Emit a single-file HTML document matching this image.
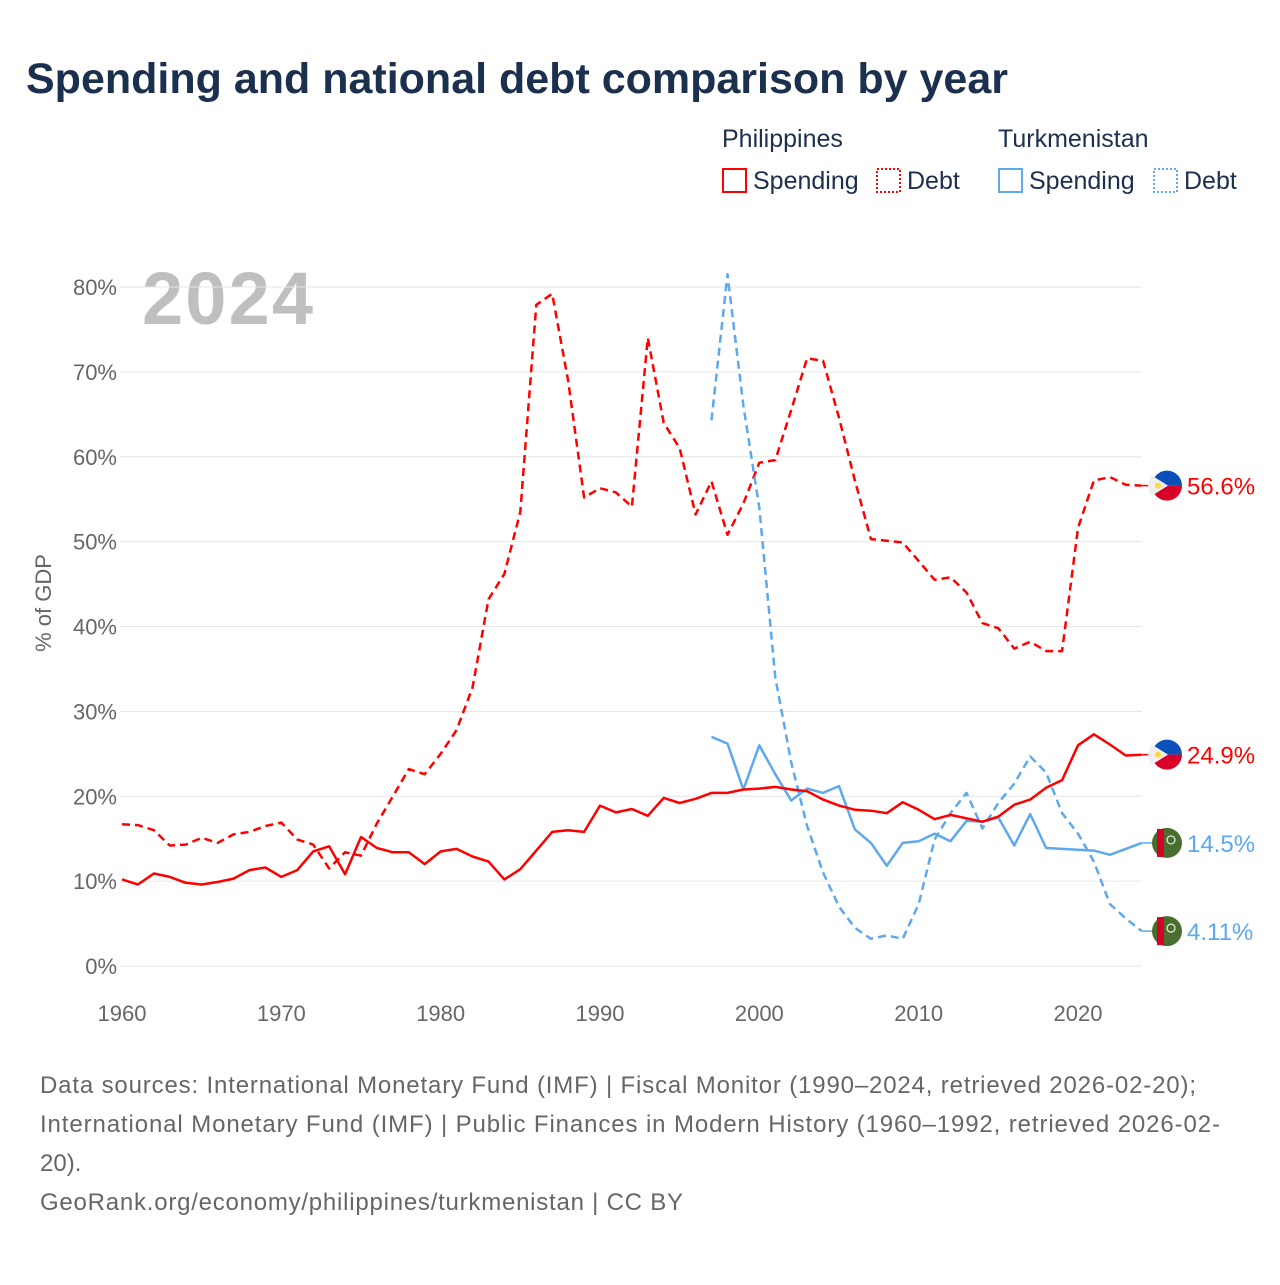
<!DOCTYPE html>
<html><head><meta charset="utf-8"><style>
body{margin:0;background:#fff;font-family:"Liberation Sans",sans-serif}
svg text{font-family:"Liberation Sans",sans-serif}
</style></head><body>
<svg id="chart" width="1280" height="1280" viewBox="0 0 1280 1280">
<text x="26" y="93" font-size="43" font-weight="bold" fill="#1b2f4e">Spending and national debt comparison by year</text>
<g font-size="25" fill="#1b2f4e">
<text x="722" y="147">Philippines</text>
<text x="998" y="147">Turkmenistan</text>
<g><rect x="723" y="169" width="23" height="23" fill="none" stroke="#f00" stroke-width="2"/><text x="753" y="189">Spending</text></g>
<g><rect x="877" y="169" width="23" height="23" fill="none" stroke="#f00" stroke-width="2" stroke-dasharray="2,2"/><text x="907" y="189">Debt</text></g>
<g><rect x="999" y="169" width="23" height="23" fill="none" stroke="#5ea8ec" stroke-width="2"/><text x="1029" y="189">Spending</text></g>
<g><rect x="1154" y="169" width="23" height="23" fill="none" stroke="#5ea8ec" stroke-width="2" stroke-dasharray="2,2"/><text x="1184" y="189">Debt</text></g>
</g>
<text x="142" y="324" font-size="74" font-weight="bold" fill="#bfbfbf" textLength="171">2024</text>
<g id="grid"></g>
<g id="yticks" font-size="22" fill="#666"></g>
<g id="xticks" font-size="22" fill="#666"></g>
<text transform="translate(51,603) rotate(-90)" text-anchor="middle" font-size="22" fill="#666">% of GDP</text>
<g id="series"></g>
<g id="endlabels"></g>
<g font-size="24" fill="#666">
<text x="40" y="1093" textLength="1156">Data sources: International Monetary Fund (IMF) | Fiscal Monitor (1990–2024, retrieved 2026-02-20);</text>
<text x="40" y="1132" textLength="1180">International Monetary Fund (IMF) | Public Finances in Modern History (1960–1992, retrieved 2026-02-</text>
<text x="40" y="1171">20).</text>
<text x="40" y="1210" textLength="643">GeoRank.org/economy/philippines/turkmenistan | CC BY</text>
</g>
</svg>
<script>
const yTicks=[0,10,20,30,40,50,60,70,80];
const xTicks=[1960,1970,1980,1990,2000,2010,2020];
const phStart=1960;
const phSpending=[10.2,9.6,10.9,10.5,9.8,9.6,9.9,10.3,11.3,11.6,10.5,11.3,13.5,14.1,10.8,15.2,13.9,13.4,13.4,12.0,13.5,13.8,12.9,12.3,10.2,11.4,13.6,15.8,16.0,15.8,18.9,18.1,18.5,17.7,19.8,19.2,19.7,20.4,20.4,20.8,20.9,21.1,20.8,20.6,19.6,18.9,18.4,18.3,18.0,19.3,18.4,17.3,17.8,17.4,17.0,17.6,19.0,19.6,21.0,21.9,26.0,27.3,26.1,24.8,24.9];
const phDebt=[16.7,16.6,16.0,14.2,14.3,15.1,14.5,15.5,15.8,16.5,16.9,14.9,14.3,11.5,13.4,13.0,16.8,20.0,23.2,22.6,25.0,27.8,32.8,43.2,46.2,53.5,77.9,79.2,69.0,55.2,56.3,55.8,54.1,74.0,64.0,61.0,53.2,57.1,50.8,54.5,59.3,59.6,65.5,71.6,71.3,64.6,57.2,50.3,50.1,49.9,47.7,45.5,45.8,44.0,40.4,39.8,37.4,38.2,37.1,37.1,51.6,57.2,57.6,56.7,56.6];
const tmStart=1997;
const tmSpending=[27.0,26.2,20.8,26.0,22.6,19.5,20.9,20.4,21.2,16.1,14.5,11.8,14.5,14.7,15.6,14.7,17.1,17.0,17.5,14.2,17.9,13.9,13.8,13.7,13.6,13.1,13.8,14.5];
const tmDebt=[64.3,81.5,66.0,54.0,34.0,24.0,16.5,11.0,7.0,4.5,3.2,3.6,3.2,7.3,14.9,18.0,20.4,16.2,19.2,21.5,24.7,22.8,18.0,15.6,12.3,7.3,5.6,4.11];
const endLabels=["56.6%","24.9%","14.5%","4.11%"];

const NS="http://www.w3.org/2000/svg";
const x=y=>122+(y-1960)*(956/60);
const yv=v=>966-v*8.4875;
function mk(t,a,p){const e=document.createElementNS(NS,t);for(const k in a)e.setAttribute(k,a[k]);p.appendChild(e);return e;}
const grid=document.getElementById('grid'),yt=document.getElementById('yticks'),xt=document.getElementById('xticks');
yTicks.forEach(v=>{
 const l=mk('line',{x1:120,x2:1142,y1:yv(v),y2:yv(v),stroke:'#e6e6e6','stroke-width':1},grid);
 
 
 const t=mk('text',{x:117,y:yv(v)+8,'text-anchor':'end'},yt);t.textContent=v+'%';
 
 
});
xTicks.forEach(v=>{
 const t=mk('text',{x:x(v),y:1021,'text-anchor':'middle'},xt);t.textContent=v;
 
 
});
const ser=document.getElementById('series');
function line(arr,start,color,dash,name){
 const d=arr.map((v,i)=>(i?'L':'M')+x(start+i).toFixed(1)+','+yv(v).toFixed(1)).join('');
 const p=mk('path',{d:d,fill:'none',stroke:color,'stroke-width':2.5,'stroke-linejoin':'round'},ser);
 if(dash)p.setAttribute('stroke-dasharray','8,5');
 
 
}
line(phDebt,phStart,'#ff0000',true,'line-ph-debt');
line(tmDebt,tmStart,'#5ea8ec',true,'line-tm-debt');
line(tmSpending,tmStart,'#5ea8ec',false,'line-tm-spending');
line(phSpending,phStart,'#ff0000',false,'line-ph-spending');
const el=document.getElementById('endlabels');
const ends=[[phDebt,'#ff0000','ph'],[phSpending,'#ff0000','ph'],[tmSpending,'#5ea8ec','tm'],[tmDebt,'#5ea8ec','tm']];
ends.forEach((e,i)=>{
 const arr=e[0],yy=yv(arr[arr.length-1]),cx=1167;
 const g=mk('g',{},el);
 
 
 mk('line',{x1:1142,x2:1152,y1:yy,y2:yy,stroke:e[1],'stroke-width':1.5},g);
 if(e[2]=='ph'){
  mk('path',{d:`M${cx-15},${yy} A15,15 0 0 1 ${cx+15},${yy} Z`,fill:'#0b50b8'},g);
  mk('path',{d:`M${cx-15},${yy} A15,15 0 0 0 ${cx+15},${yy} Z`,fill:'#d80027'},g);
  mk('path',{d:`M${cx-15},${yy-10} L${cx+1},${yy} L${cx-15},${yy+10} A15,15 0 0 1 ${cx-15},${yy-10}Z`,fill:'#eee'},g);
  mk('circle',{cx:cx-9,cy:yy,r:3,fill:'#ffd83b'},g);
 }else{
  mk('circle',{cx:cx,cy:yy,r:15,fill:'#496e2d'},g);
  mk('rect',{x:cx-10,y:yy-14,width:7,height:28,fill:'#d80027'},g);
  mk('circle',{cx:cx+4,cy:yy-3,r:4,fill:'none',stroke:'#eee','stroke-width':1.2},g);
 }
 const t=mk('text',{x:1187,y:yy+9,'font-size':24,fill:e[1]},g);t.textContent=endLabels[i];
 
 
});
</script>
</body></html>
